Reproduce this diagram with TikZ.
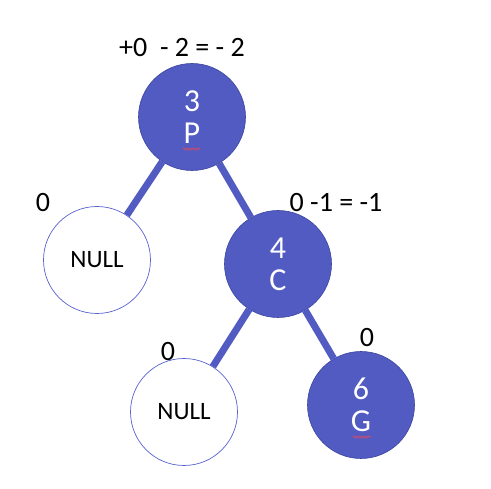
\documentclass[tikz,border=0pt]{standalone}
\usepackage{fontspec}
\setmainfont{Carlito}
\usetikzlibrary{decorations.pathmorphing}
\definecolor{nodeblue}{RGB}{81,91,193}
\definecolor{nodeedge}{RGB}{60,68,160}
\definecolor{nulledge}{RGB}{90,100,205}
\definecolor{squig}{RGB}{230,70,90}
\begin{document}
\begin{tikzpicture}[x=1pt,y=-1pt,
  full/.style={circle,fill=nodeblue,draw=nodeedge,line width=0.6pt,minimum size=107pt,inner sep=0pt,text=white,font=\fontsize{32}{32}\selectfont,align=center},
  nullnode/.style={circle,fill=white,draw=nulledge,line width=0.7pt,minimum size=107pt,inner sep=0pt,font=\fontsize{25}{28}\selectfont},
  conn/.style={nodeblue,line width=7pt},
  lbl/.style={font=\fontsize{28}{32}\selectfont,inner sep=0pt},
  squiggle/.style={squig,line width=0.6pt,decorate,decoration={snake,amplitude=1.1pt,segment length=3pt}}]
\useasboundingbox (0,0) rectangle (491,489);
\node[full] (P) at (192,117) {3\\P};
\node[nullnode] (N1) at (97,260) {NULL};
\node[full] (C) at (278,264) {4\\C};
\node[nullnode] (N2) at (184,412) {NULL};
\node[full] (G) at (361,405) {6\\G};
\draw[conn] (P) -- (N1);
\draw[conn] (P) -- (C);
\draw[conn] (C) -- (N2);
\draw[conn] (C) -- (G);
\coordinate (sp1) at (183,149);
\coordinate (sp2) at (200,149);
\draw[squiggle] (sp1) -- (sp2);
\coordinate (sg1) at (353,437);
\coordinate (sg2) at (371,437);
\draw[squiggle] (sg1) -- (sg2);
\node[lbl] (lP) at (182,48) {+0\ \ - 2 = - 2};
\node[lbl] (lN1) at (43,203) {0};
\node[lbl] (lC) at (336,203) {0 -1 = -1};
\node[lbl] (lN2) at (168,352) {0};
\node[lbl] (lG) at (367,338) {0};
\end{tikzpicture}
\end{document}
